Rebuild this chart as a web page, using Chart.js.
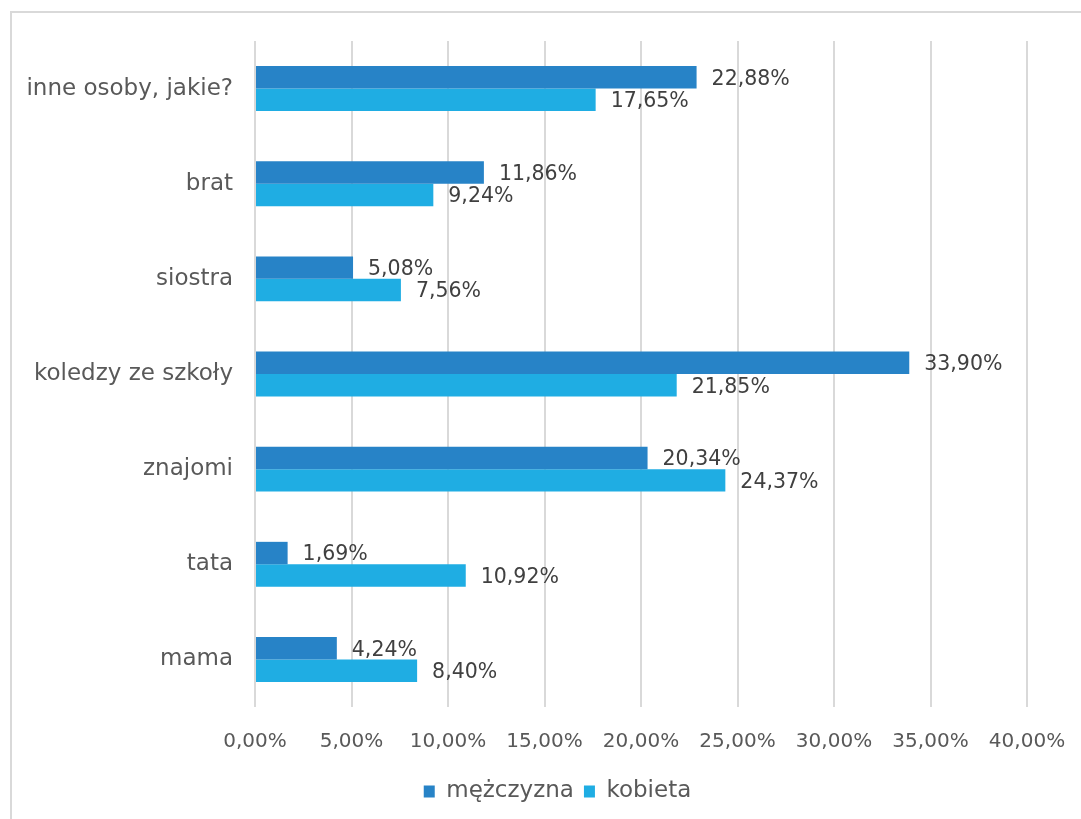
<!DOCTYPE html>
<html>
<head>
<meta charset="utf-8">
<script src="https://cdn.jsdelivr.net/npm/chart.js@4/dist/chart.umd.min.js"></script>
<style>
    html, body { margin: 0; padding: 0; background: #fff; overflow: hidden; }
    #wrap { position: absolute; left: 0; top: 0; width: 1081px; height: 819px; }
    #frame { position: absolute; left: 10px; top: 11px; width: 1200px; height: 900px; border: 2px solid #d9d9d9; box-sizing: border-box; }
</style>
</head>
<body>
<div id="frame"></div>
<div id="wrap"><canvas id="chart" width="1081" height="819"></canvas></div>
<script>
const categories = ['inne osoby, jakie?', 'brat', 'siostra', 'koledzy ze szkoły', 'znajomi', 'tata', 'mama'];
const menValues = [22.88, 11.86, 5.08, 33.90, 20.34, 1.69, 4.24];
const womenValues = [17.65, 9.24, 7.56, 21.85, 24.37, 10.92, 8.40];
const seriesNames = ['mężczyzna', 'kobieta'];
const xTicks = [0, 5, 10, 15, 20, 25, 30, 35, 40];

const fmt = v => v.toFixed(2).replace('.', ',') + '%';
const FONT = 'DejaVu Sans';

const valueLabels = {
    id: 'valueLabels',
    afterDatasetsDraw(chart) {
        const ctx = chart.ctx;
        ctx.save();
        ctx.font = '20.5px "' + FONT + '"';
        ctx.fillStyle = '#404040';
        ctx.textAlign = 'left';
        ctx.textBaseline = 'middle';
        chart.data.datasets.forEach((ds, i) => {
            chart.getDatasetMeta(i).data.forEach((bar, j) => {
                ctx.fillText(fmt(ds.data[j]), bar.x + 15, bar.y + 2);
            });
        });
        ctx.restore();
    }
};

// legend sits centred a bit to the right in the original
const legendShift = {
    id: 'legendShift',
    afterLayout(chart) {
        chart.legend.left += 44;
        chart.legend.right += 44;
    }
};

new Chart(document.getElementById('chart'), {
    type: 'bar',
    data: {
        labels: categories,
        datasets: [{
            label: seriesNames[0],
            data: menValues,
            backgroundColor: '#2783C7',
            categoryPercentage: 0.472,
            barPercentage: 1.0,
        }, {
            label: seriesNames[1],
            data: womenValues,
            backgroundColor: '#1FADE3',
            categoryPercentage: 0.472,
            barPercentage: 1.0,
        }]
    },
    options: {
        indexAxis: 'y',
        responsive: false,
        animation: false,
        layout: { padding: { top: 41, right: 54, bottom: 6, left: 0 } },
        plugins: {
            legend: {
                position: 'bottom',
                labels: {
                    font: { family: FONT, size: 23 },
                    color: '#595959',
                    boxWidth: 11,
                    boxHeight: 12,
                    padding: 10,
                }
            },
            tooltip: { enabled: false }
        },
        scales: {
            x: {
                min: 0,
                max: 40,
                afterBuildTicks: scale => { scale.ticks = xTicks.map(v => ({ value: v })); },
                afterFit: scale => {
                    scale.height = 63;
                    scale.paddingRight = 0;
                },
                ticks: {
                    callback: v => fmt(v),
                    font: { family: FONT, size: 20 },
                    color: '#595959',
                    padding: 23,
                    maxRotation: 0,
                },
                grid: { color: '#d9d9d9', lineWidth: 2, drawTicks: false },
                border: { display: false }
            },
            y: {
                afterFit: scale => { scale.width = 255; },
                ticks: {
                    font: { family: FONT, size: 23 },
                    color: '#595959',
                    padding: 22,
                },
                grid: { display: false, drawTicks: false },
                border: { display: false }
            }
        }
    },
    plugins: [valueLabels, legendShift]
});
</script>
</body>
</html>
